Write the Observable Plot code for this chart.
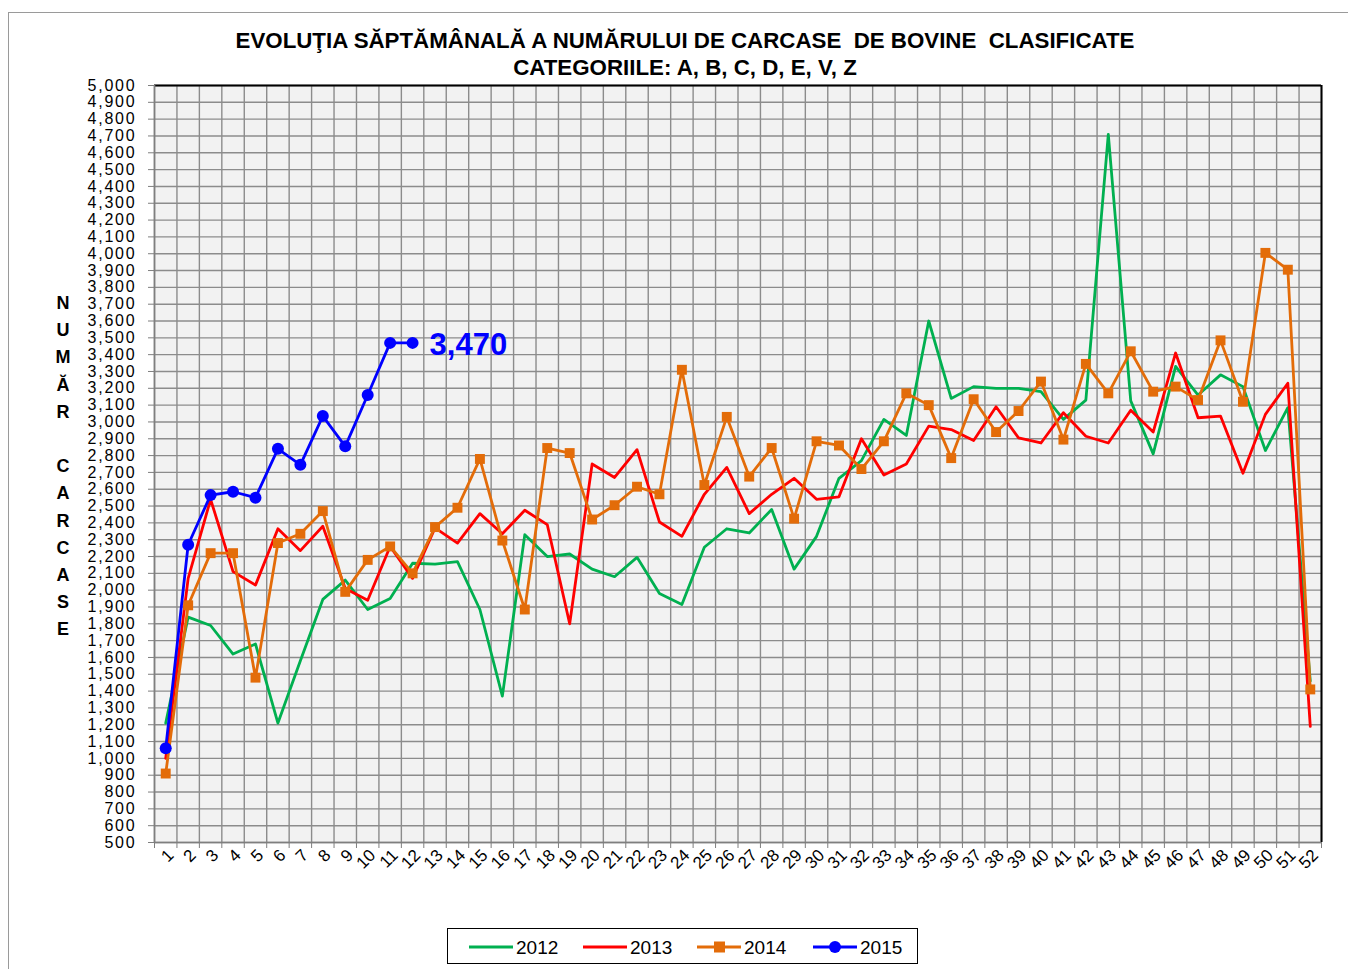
<!DOCTYPE html>
<html>
<head>
<meta charset="utf-8">
<script src="https://cdn.jsdelivr.net/npm/d3@7"></script>
<script src="https://cdn.jsdelivr.net/npm/@observablehq/plot@0.6"></script>
<style>
  html, body { margin: 0; padding: 0; background: #fff; }
  body { width: 1348px; height: 969px; position: relative; overflow: hidden; font-family: Arial, "Liberation Sans", sans-serif; }
  #border { position: absolute; left: 8px; top: 12px; width: 1360px; height: 980px; border: 1px solid #9a9a9a; box-sizing: border-box; }
  #chart { position: absolute; left: 0; top: 0; }
  #title { position: absolute; left: 0; width: 1370px; top: 27px; text-align: center; font-weight: bold; font-size: 22.3px; line-height: 27px; color: #000; white-space: pre; }
  #ylabel { position: absolute; left: 52px; top: 290px; width: 22px; text-align: center; font-weight: bold; font-size: 18px; line-height: 27.2px; color: #000; }
  #legend { position: absolute; left: 447px; top: 928px; width: 471px; height: 36px; border: 1px solid #000; box-sizing: border-box; background: #fff; }
  .yt text { letter-spacing: 1.8px; }
</style>
</head>
<body>
<div id="border"></div>
<div id="chart"></div>
<div id="title">EVOLUŢIA SĂPTĂMÂNALĂ A NUMĂRULUI DE CARCASE  DE BOVINE  CLASIFICATE
CATEGORIILE: A, B, C, D, E, V, Z</div>
<div id="ylabel"></div>
<div id="legend"></div>
<script>
// ---- data ----
const weeks = d3.range(1, 53);
const s2012 = [1210,1840,1790,1620,1680,1210,1580,1945,2060,1885,1950,2160,2155,2170,1885,1370,2330,2200,2215,2125,2080,2195,1980,1915,2255,2365,2340,2480,2125,2320,2665,2770,3015,2920,3600,3140,3210,3200,3200,3180,3015,3130,4710,3125,2810,3330,3160,3280,3210,2830,3085,1460];
const s2013 = [1000,2070,2540,2110,2030,2365,2235,2380,2010,1940,2260,2070,2370,2280,2455,2335,2475,2390,1800,2750,2670,2835,2405,2320,2570,2730,2455,2570,2665,2540,2555,2900,2685,2750,2975,2955,2890,3090,2905,2875,3055,2915,2875,3070,2940,3410,3025,3035,2695,3045,3230,1190];
const s2014 = [910,1910,2220,2220,1480,2280,2335,2470,1990,2180,2260,2100,2375,2490,2780,2295,1885,2845,2815,2420,2505,2615,2570,3310,2625,3030,2675,2845,2425,2885,2860,2720,2885,3170,3100,2785,3135,2940,3065,3240,2895,3345,3170,3420,3180,3210,3130,3485,3120,4005,3905,1410];
const s2015 = [1060,2270,2565,2585,2550,2840,2745,3035,2855,3160,3470,3470];
const yTicks = d3.range(500, 5001, 100);
const lastLabel = "3,470";

const series = [
  {name: "2012", values: s2012, color: "#00b050", marker: null},
  {name: "2013", values: s2013, color: "#ff0000", marker: null},
  {name: "2014", values: s2014, color: "#e36c09", marker: "square"},
  {name: "2015", values: s2015, color: "#0000ff", marker: "circle"}
];
const rows = series.flatMap(s => s.values.map((v, i) => ({series: s.name, week: weeks[i], value: v})));
const boundaries = d3.range(0.5, 53, 1);

const marks = [
  Plot.frame({fill: "#f2f2f2", stroke: "none"}),
  Plot.ruleY(yTicks, {stroke: "#8c8c8c", strokeWidth: 1.4}),
  Plot.ruleX(boundaries, {stroke: "#8c8c8c", strokeWidth: 1.4}),
  Plot.ruleY([5000], {stroke: "#000", strokeWidth: 2}),
  Plot.ruleX([52.5], {stroke: "#000", strokeWidth: 2}),
  Plot.ruleY([500], {stroke: "#7f7f7f", strokeWidth: 1.6}),
  Plot.ruleX([0.5], {stroke: "#7f7f7f", strokeWidth: 1.6}),
  Plot.axisY({ticks: yTicks, tickFormat: d3.format(","), tickSize: 6, tickPadding: 12, fontSize: 16, stroke: "#7f7f7f", fill: "#000", label: null, className: "yt"}),
  Plot.axisX({ticks: boundaries, tickFormat: () => "", tickSize: 6, stroke: "#7f7f7f", label: null}),
  Plot.axisX({ticks: weeks, tickFormat: d => String(d), tickSize: 0, tickPadding: 10, tickRotate: -45, fontSize: 17, fill: "#000", dx: 5, label: null}),
];
for (const s of series) {
  const data = rows.filter(r => r.series === s.name);
  marks.push(Plot.line(data, {x: "week", y: "value", stroke: s.color, strokeWidth: 2.8}));
  if (s.marker === "square") {
    marks.push(Plot.dot(data, {x: "week", y: "value", symbol: "square", r: 5.6, fill: s.color, stroke: null}));
  } else if (s.marker === "circle") {
    marks.push(Plot.dot(data, {x: "week", y: "value", symbol: "circle", r: 6, fill: s.color, stroke: null}));
  }
}
const last2015 = rows.filter(r => r.series === "2015").slice(-1);
marks.push(Plot.text(last2015, {x: "week", y: "value", text: () => lastLabel, textAnchor: "start", dx: 17, dy: 2, fontSize: 31, fontWeight: "bold", fill: "#0000ff"}));

const chart = Plot.plot({
  width: 1348,
  height: 969,
  marginLeft: 154,
  marginRight: 27,
  marginTop: 85,
  marginBottom: 127,
  style: {fontFamily: "Arial, 'Liberation Sans', sans-serif", background: "transparent", overflow: "visible"},
  x: {type: "linear", domain: [0.5, 52.5], label: null},
  y: {type: "linear", domain: [500, 5000], label: null},
  marks
});
document.getElementById("chart").appendChild(chart);

// y label letters
const ylab = ["N","U","M","Ă","R","","C","A","R","C","A","S","E"];
document.getElementById("ylabel").innerHTML = ylab.map(c => `<div style="height:27.2px">${c || "&nbsp;"}</div>`).join("");

// legend
const legendItems = [
  {s: series[0], x: 22}, {s: series[1], x: 136}, {s: series[2], x: 250}, {s: series[3], x: 366}
];
let svg = `<svg width="471" height="36" xmlns="http://www.w3.org/2000/svg" style="position:absolute;left:-1px;top:-1px">`;
for (const it of legendItems) {
  const cy = 19;
  svg += `<line x1="${it.x}" x2="${it.x + 44}" y1="${cy}" y2="${cy}" stroke="${it.s.color}" stroke-width="3"/>`;
  if (it.s.marker === "square") svg += `<rect x="${it.x + 17}" y="${cy - 5.5}" width="11" height="11" fill="${it.s.color}"/>`;
  if (it.s.marker === "circle") svg += `<circle cx="${it.x + 22}" cy="${cy}" r="6" fill="${it.s.color}"/>`;
  svg += `<text x="${it.x + 47}" y="${cy + 7}" font-size="19" font-family="Arial, 'Liberation Sans', sans-serif" fill="#000">${it.s.name}</text>`;
}
svg += `</svg>`;
document.getElementById("legend").innerHTML = svg;
</script>
</body>
</html>
